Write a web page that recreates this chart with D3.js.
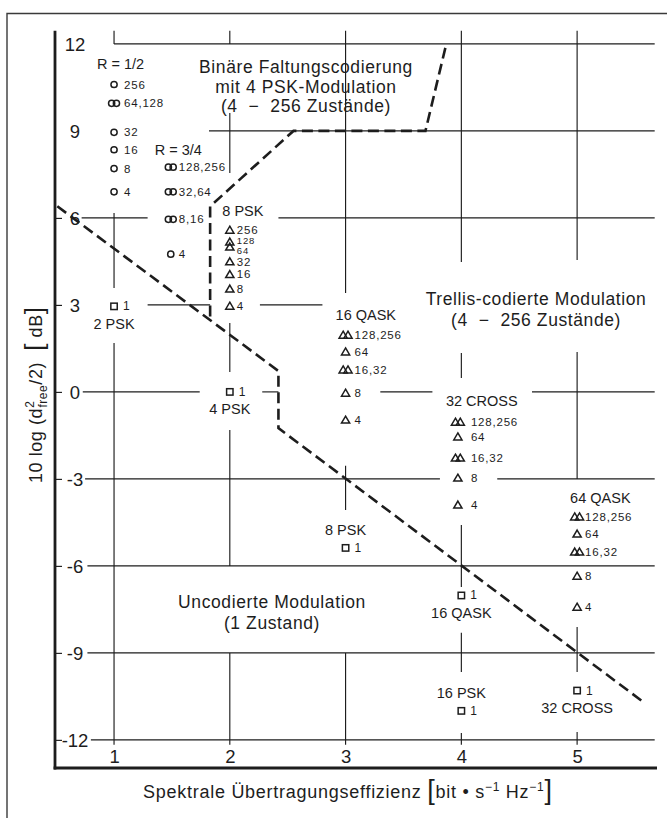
<!DOCTYPE html>
<html><head><meta charset="utf-8">
<script src="https://cdn.jsdelivr.net/npm/d3@7"></script>
<style>
html,body{margin:0;padding:0;background:#fff;}
svg{display:block;font-family:"Liberation Sans",Arial,Helvetica,sans-serif;}
</style></head><body>
<svg id="chart" width="667" height="818"></svg>
<script>
// ------------------------- data -------------------------
const xTicks = [1, 2, 3, 4, 5];
const yTicks = [12, 9, 6, 3, 0, -3, -6, -9, -12];
const yTickMarks = [6, 3, 0, -3, -6, -9, -12];

// binary convolutional codes with 4 PSK
const rHalfStates = ["4", "8", "16", "32", "64,128", "256"];
const rHalfValues = [6.9, 7.7, 8.35, 8.95, 9.95, 10.6];
const rThreeQuarterStates = ["4", "8,16", "32,64", "128,256"];
const rThreeQuarterValues = [4.75, 5.95, 6.9, 7.75];

// trellis coded modulation
const psk8States = ["4", "8", "16", "32", "64", "128", "256"];
const psk8Values = [2.96, 3.55, 4.05, 4.49, 5.0, 5.17, 5.58];
const qask16States = ["4", "8", "16,32", "64", "128,256"];
const qask16Values = [-0.97, -0.04, 0.76, 1.38, 1.96];
const cross32States = ["4", "8", "16,32", "64", "128,256"];
const cross32Values = [-3.9, -2.97, -2.28, -1.55, -1.04];
const qask64States = ["4", "8", "16,32", "64", "128,256"];
const qask64Values = [-7.42, -6.35, -5.52, -4.9, -4.31];

// uncoded modulation (1 state)
const uncodedNames = ["2 PSK", "4 PSK", "8 PSK", "16 QASK", "16 PSK", "32 CROSS"];
const uncodedEff = [1, 2, 3, 4, 4, 5];
const uncodedValues = [2.95, 0.0, -5.38, -7.02, -11.0, -10.3];

// boundary curves
const uncodedBound = [[0.51, 6.4], [2.42, 0.72], [2.42, -1.25], [5.59, -10.75]];
const codedBound = [[1.83, 2.6], [1.83, 6.4], [2.55, 9], [3.69, 9], [3.87, 12]];

// broken grid lines: [x, yFrom, yTo] and [y, xFrom, xTo]
const vGridSegments = [
  [1, 12.45, 12], [1, 6.17, 3.58], [1, 1.69, -12.17],
  [2, 12.45, 12], [2, 9.62, 7.55], [2, 2.38, 0.69], [2, -1.31, -6], [2, -9, -12.17],
  [3, 12.45, 3.41], [3, -2.55, -4.07], [3, -9, -12.17],
  [4, 12.45, 4.48], [4, 1.34, 0.48], [4, -4.59, -6.73], [4, -8.31, -9.66], [4, -11.76, -12.17],
  [5, 12.45, 4.55], [5, 1.38, -3.0], [5, -8.11, -9.66], [5, -11.73, -12.17]
];
const hGridSegments = [
  [12, 1.0, 5.67],
  [9, 1.82, 5.67],
  [6, 0.72, 1.29], [6, 2.42, 5.67],
  [3, 1.29, 1.83], [3, 2.26, 2.80],
  [0, 0.73, 1.74], [0, 2.28, 2.42], [0, 3.30, 3.75], [0, 4.61, 5.67],
  [-3, 0.75, 3.815], [-3, 4.31, 5.67],
  [-6, 0.77, 5.67], [-9, 0.77, 5.67], [-12, 0.80, 5.67]
];

// region texts
const codedText = ["Binäre Faltungscodierung", "mit 4 PSK-Modulation", "(4 \u00a0\u2212\u00a0 256 Zustände)"];
const trellisText = ["Trellis-codierte Modulation", "(4 \u00a0\u2212\u00a0 256 Zustände)"];
const uncodedText = ["Uncodierte Modulation", "(1 Zustand)"];

// ------------------------- layout -------------------------
const FONT = '"Liberation Sans", Arial, Helvetica, sans-serif';
const ink = "#1d1d1d";
const svg = d3.select("#chart");
const x = d3.scaleLinear().domain([0.49, 5.69]).range([55, 657]);
const y = d3.scaleLinear().domain([-12.97, 12.48]).range([768, 30]);

// frame
svg.append("path").attr("d", "M7,818 V13.5 H667")
  .attr("fill", "none").attr("stroke", "#3a3a3a").attr("stroke-width", 1.4);

// grid
const grid = svg.append("g").attr("stroke", ink).attr("stroke-width", 1.15).attr("fill", "none");
grid.selectAll("line.v").data(vGridSegments).join("line").attr("class", "v")
  .attr("x1", d => x(d[0])).attr("x2", d => x(d[0]))
  .attr("y1", d => y(d[1])).attr("y2", d => y(d[2]));
grid.selectAll("line.h").data(hGridSegments).join("line").attr("class", "h")
  .attr("y1", d => y(d[0])).attr("y2", d => y(d[0]))
  .attr("x1", d => x(d[1])).attr("x2", d => x(d[2]));

// short ticks on left axis
const tickG = svg.append("g").attr("transform", `translate(${x.range()[0]},0)`)
  .call(d3.axisRight(y).tickValues(yTickMarks).tickSize(7).tickFormat(""));
tickG.select(".domain").remove();
tickG.selectAll("line").attr("stroke", ink).attr("stroke-width", 1.15);

// thick axis lines
svg.append("line").attr("x1", x.range()[0]).attr("x2", x.range()[0])
  .attr("y1", y(12.45)).attr("y2", y.range()[0] + 1.5)
  .attr("stroke", ink).attr("stroke-width", 2.8);
svg.append("line").attr("x1", x.range()[0] - 1.4).attr("x2", x.range()[1])
  .attr("y1", y.range()[0]).attr("y2", y.range()[0])
  .attr("stroke", ink).attr("stroke-width", 2.8);

// tick labels
const yAx = svg.append("g").attr("transform", "translate(75,1)")
  .call(d3.axisLeft(y).tickValues(yTicks).tickSize(0).tickPadding(0).tickFormat(d => String(d)));
yAx.select(".domain").remove();
yAx.attr("font-family", FONT).attr("font-size", 18.5);
yAx.selectAll("text").attr("text-anchor", "middle").attr("fill", ink);

const xAx = svg.append("g").attr("transform", `translate(0,${y(-12) + 10})`)
  .call(d3.axisBottom(x).tickValues(xTicks).tickSize(0).tickPadding(0).tickFormat(d => String(d)));
xAx.select(".domain").remove();
xAx.attr("font-family", FONT).attr("font-size", 18.5);
xAx.selectAll("text").attr("fill", ink);

// boundary lines
const lineGen = d3.line().x(d => x(d[0])).y(d => y(d[1]));
svg.append("path").datum(uncodedBound).attr("d", lineGen)
  .attr("fill", "none").attr("stroke", ink).attr("stroke-width", 2.6)
  .attr("stroke-dasharray", "11,5.5");
svg.append("path").datum(codedBound).attr("d", lineGen)
  .attr("fill", "none").attr("stroke", ink).attr("stroke-width", 2.6)
  .attr("stroke-dasharray", "11,5.5");

// markers
const mk = svg.append("g").attr("fill", "none").attr("stroke", ink).attr("stroke-width", 1.5);
function marker(shape, dbl, cx, cy) {
  const offs = dbl ? [-2.4, 2.4] : [0];
  offs.forEach(o => {
    if (shape === "circle") {
      mk.append("circle").attr("cx", cx + o).attr("cy", cy).attr("r", 3.1);
    } else if (shape === "triangle") {
      const px = cx + o;
      mk.append("path").attr("d", `M${px},${cy - 3.9}L${px + 4.1},${cy + 3.1}L${px - 4.1},${cy + 3.1}Z`);
    } else {
      mk.append("rect").attr("x", cx - 3.2).attr("y", cy - 3.2).attr("width", 6.4).attr("height", 6.4);
    }
  });
}

const txt = svg.append("g").attr("font-family", FONT).attr("fill", ink);

const groups = [
  {title: "R = 1/2", xv: 1.0, states: rHalfStates, values: rHalfValues, shape: "circle", tdx: -17, tdy: -20.5, ldx: 10},
  {title: "R = 3/4", xv: 1.49, states: rThreeQuarterStates, values: rThreeQuarterValues, shape: "circle", tdx: -16, tdy: -17, ldx: 8},
  {title: "8 PSK", xv: 2.0, states: psk8States, values: psk8Values, shape: "triangle", tdx: -7.5, tdy: -19, ldx: 7},
  {title: "16 QASK", xv: 3.0, states: qask16States, values: qask16Values, shape: "triangle", tdx: -10, tdy: -20, ldx: 9},
  {title: "32 CROSS", xv: 3.97, states: cross32States, values: cross32Values, shape: "triangle", tdx: -12, tdy: -21, ldx: 13},
  {title: "64 QASK", xv: 5.0, states: qask64States, values: qask64Values, shape: "triangle", tdx: -7, tdy: -19, ldx: 8}
];

groups.forEach(g => {
  const cx = x(g.xv);
  const pts = g.values.map((v, i) => ({cy: y(v), label: g.states[i], dbl: g.states[i].includes(",")}));
  pts.forEach(p => marker(g.shape, p.dbl, cx, p.cy));
  // label positions: spread crowded labels a little
  const sorted = pts.slice().sort((a, b) => a.cy - b.cy);
  sorted.forEach(p => { p.ly = p.cy; p.fs = 11.5; });
  for (let i = 1; i < sorted.length; i++) {
    const a = sorted[i - 1], b = sorted[i];
    const gap = b.ly - a.ly;
    if (gap < 9) {
      const need = 10.5 - gap;
      a.ly -= need * 0.3; b.ly += need * 0.7;
      a.fs = 9.5; b.fs = 9.5;
    }
  }
  sorted.forEach(p => {
    txt.append("text").attr("x", cx + g.ldx).attr("y", p.ly)
      .attr("dominant-baseline", "central").attr("font-size", p.fs)
      .attr("letter-spacing", 0.8).text(p.label);
  });
  const top = d3.min(pts, p => p.cy);
  txt.append("text").attr("x", cx + g.tdx).attr("y", top + g.tdy)
    .attr("dominant-baseline", "central").attr("font-size", 14.5).text(g.title);
});

// uncoded squares
uncodedNames.forEach((name, i) => {
  const cx = x(uncodedEff[i]), cy = y(uncodedValues[i]);
  marker("square", false, cx, cy);
  txt.append("text").attr("x", cx + 9).attr("y", cy).attr("dominant-baseline", "central")
    .attr("font-size", 12).text("1");
  const above = (name === "8 PSK" || name === "16 PSK");
  txt.append("text").attr("x", cx).attr("y", cy + (above ? -18 : 17.5))
    .attr("dominant-baseline", "central").attr("text-anchor", "middle")
    .attr("font-size", 14.5).text(name);
});

// region texts
function block(lines, xv, yv, lh) {
  lines.forEach((l, i) => {
    txt.append("text").attr("x", x(xv)).attr("y", y(yv) + i * lh)
      .attr("text-anchor", "middle").attr("dominant-baseline", "central")
      .attr("font-size", 17.5).attr("letter-spacing", 0.6).text(l);
  });
}
block(codedText, 2.658, 11.2, 19.5);
block(trellisText, 4.645, 3.2, 21);
block(uncodedText, 2.364, -7.244, 21);

// axis titles
const xt = txt.append("text").attr("x", 143).attr("y", 798).attr("text-anchor", "start")
  .attr("font-size", 18).attr("textLength", 409).attr("lengthAdjust", "spacing");
xt.append("tspan").text("Spektrale Übertragungseffizienz ");
xt.append("tspan").attr("font-size", 27).attr("dy", 1).text("[");
xt.append("tspan").attr("dy", -1).text("bit \u2022 s");
xt.append("tspan").attr("font-size", 12).attr("dy", -7).text("\u22121");
xt.append("tspan").attr("dy", 7).text(" Hz");
xt.append("tspan").attr("font-size", 12).attr("dy", -7).text("\u22121");
xt.append("tspan").attr("font-size", 27).attr("dy", 8).text("]");

const yt = txt.append("text").attr("transform", "translate(42,483) rotate(-90)")
  .attr("text-anchor", "start").attr("font-size", 18)
  .attr("textLength", 176).attr("lengthAdjust", "spacing");
yt.append("tspan").text("10 log (d");
yt.append("tspan").attr("font-size", 12).attr("dy", -8).text("2");
yt.append("tspan").attr("font-size", 12).attr("dx", -7).attr("dy", 13).text("free");
yt.append("tspan").attr("dy", -5).text("/2) \u00a0");
yt.append("tspan").attr("font-size", 26).attr("dy", 1).text("[");
yt.append("tspan").attr("dy", -1).text(" dB");
yt.append("tspan").attr("font-size", 26).attr("dy", 1).text("]");
</script>
</body></html>
